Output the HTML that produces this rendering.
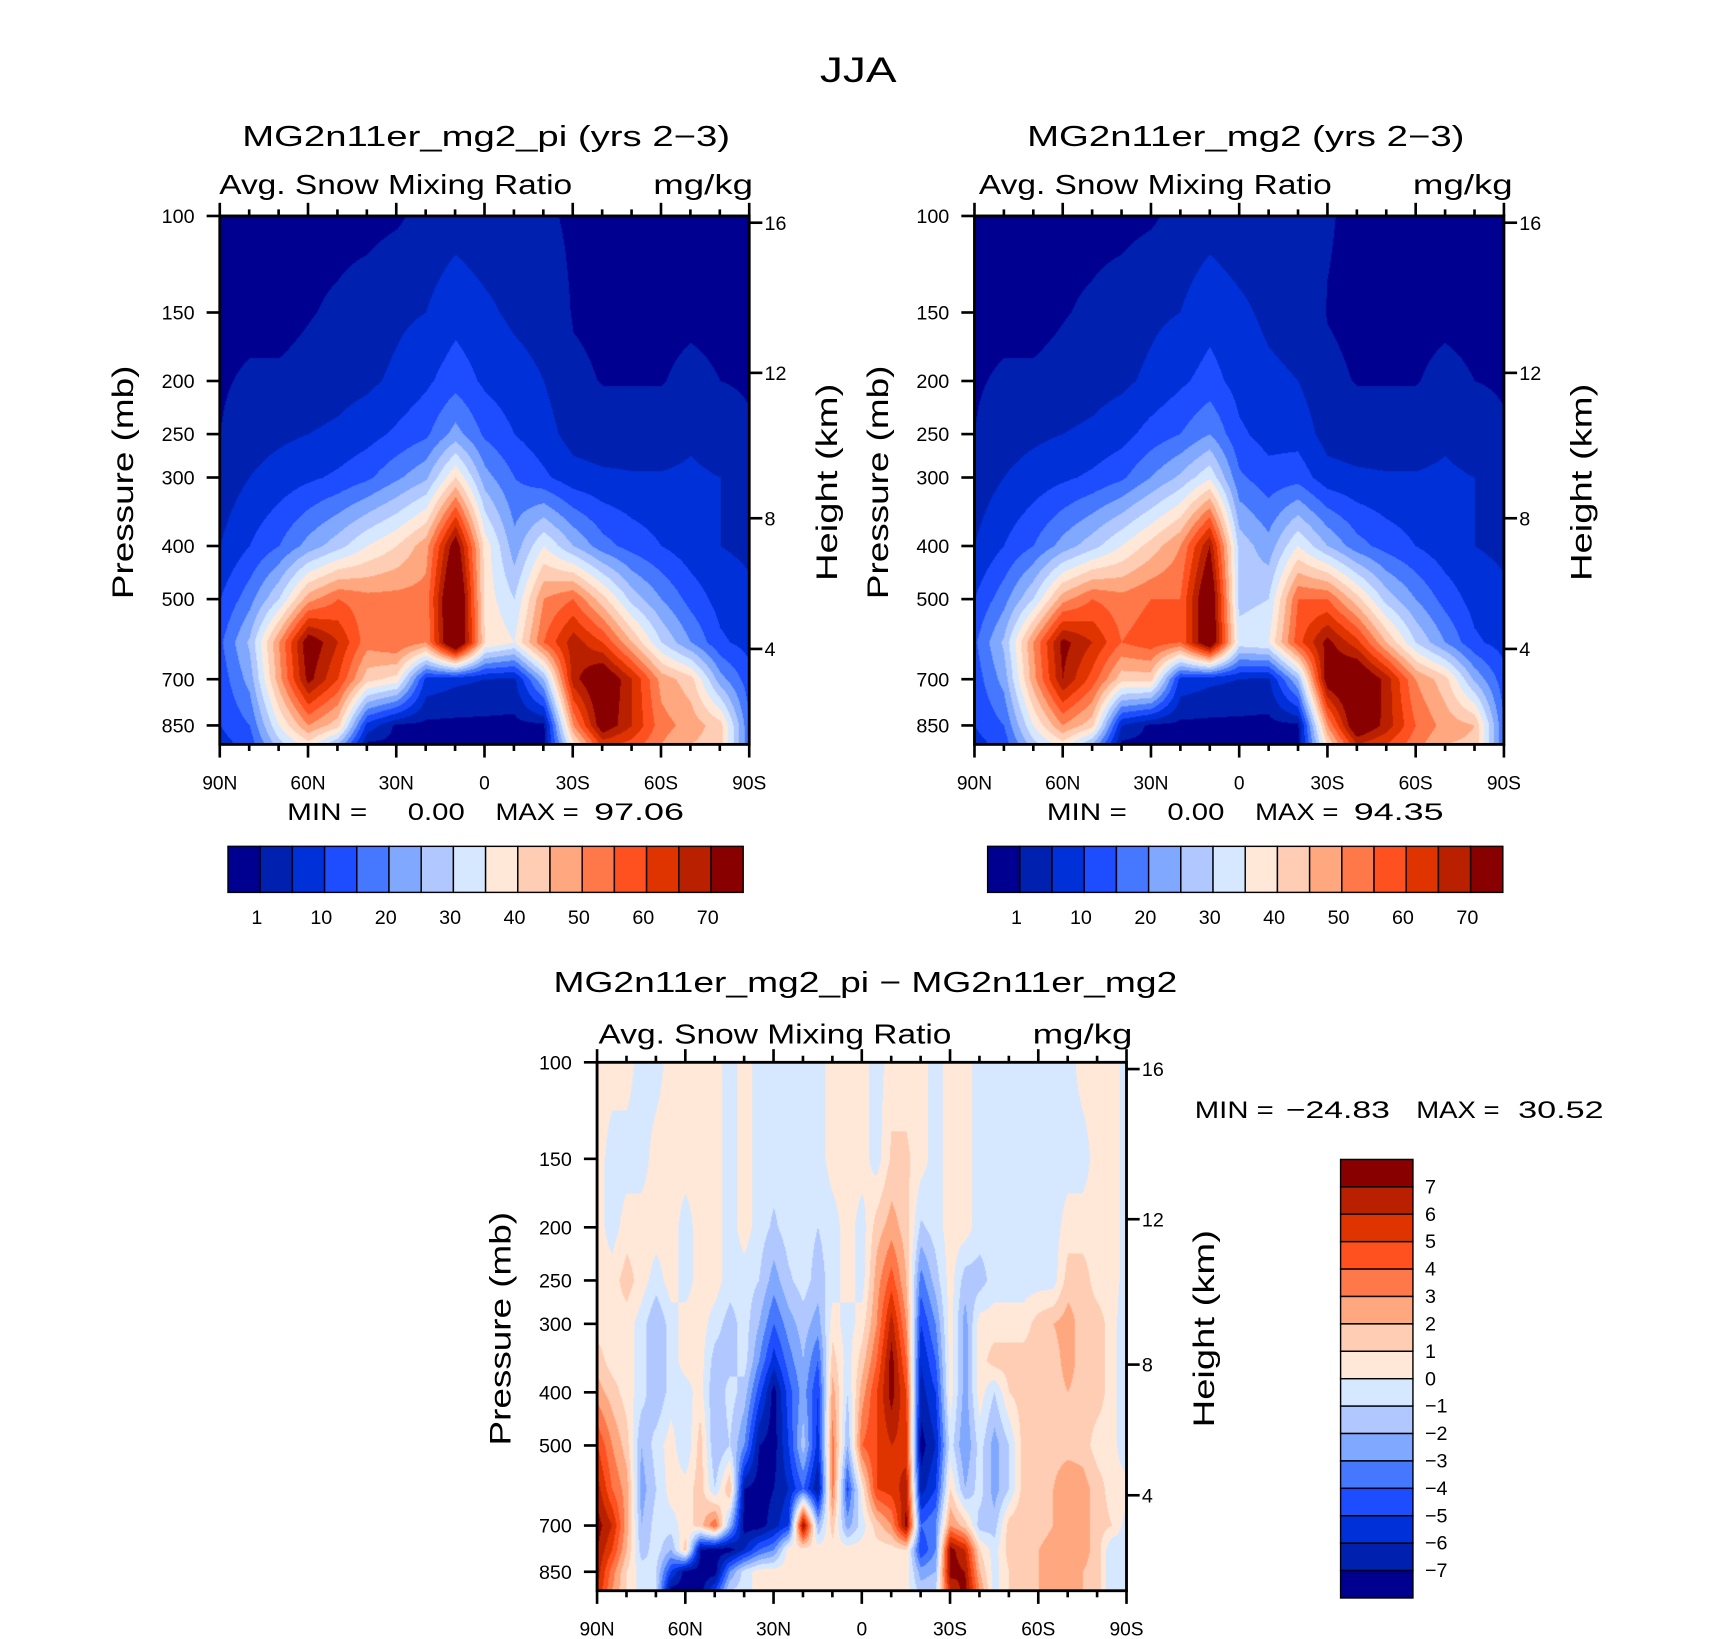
<!DOCTYPE html>
<html><head><meta charset="utf-8">
<style>
html,body{margin:0;padding:0;background:#fff;width:1710px;height:1639px;overflow:hidden}
#wrap{position:absolute;left:0;top:0;width:1560px;height:1495px;transform:scale(1.09615,1.0963);transform-origin:0 0}
canvas{position:absolute}
svg{position:absolute;left:0;top:0}
text{font-family:"Liberation Sans",sans-serif;fill:#000}
</style></head>
<body>
<div id="wrap">
<canvas id="cvL" style="left:200.5px;top:197px;width:483px;height:482px" width="530" height="528"></canvas>
<canvas id="cvR" style="left:889px;top:197px;width:483px;height:482px" width="530" height="528"></canvas>
<canvas id="cvD" style="left:544.7px;top:969px;width:483px;height:482px" width="530" height="528"></canvas>
<svg id="svg" width="1560" height="1495" viewBox="0 0 1560 1495">
<text x="783" y="75" font-size="32" text-anchor="middle" textLength="70" lengthAdjust="spacingAndGlyphs">JJA</text>
<text x="221" y="133" font-size="26" textLength="445" lengthAdjust="spacingAndGlyphs">MG2n11er_mg2_pi (yrs 2−3)</text>
<text x="200" y="177" font-size="25" textLength="322" lengthAdjust="spacingAndGlyphs">Avg. Snow Mixing Ratio</text>
<text x="596" y="177" font-size="25" textLength="91" lengthAdjust="spacingAndGlyphs">mg/kg</text>
<text x="937" y="133" font-size="26" textLength="399" lengthAdjust="spacingAndGlyphs">MG2n11er_mg2 (yrs 2−3)</text>
<text x="893" y="177" font-size="25" textLength="322" lengthAdjust="spacingAndGlyphs">Avg. Snow Mixing Ratio</text>
<text x="1289" y="177" font-size="25" textLength="91" lengthAdjust="spacingAndGlyphs">mg/kg</text>
<text x="505" y="905" font-size="26" textLength="569" lengthAdjust="spacingAndGlyphs">MG2n11er_mg2_pi − MG2n11er_mg2</text>
<text x="546" y="952" font-size="25" textLength="322" lengthAdjust="spacingAndGlyphs">Avg. Snow Mixing Ratio</text>
<text x="942" y="952" font-size="25" textLength="91" lengthAdjust="spacingAndGlyphs">mg/kg</text>
<g font-size="22">
<text x="262" y="748" textLength="73" lengthAdjust="spacingAndGlyphs">MIN  =</text>
<text x="372" y="748" textLength="52" lengthAdjust="spacingAndGlyphs">0.00</text>
<text x="452" y="748" textLength="76" lengthAdjust="spacingAndGlyphs">MAX  =</text>
<text x="542" y="748" textLength="82" lengthAdjust="spacingAndGlyphs">97.06</text>
</g>
<g font-size="22">
<text x="955" y="748" textLength="73" lengthAdjust="spacingAndGlyphs">MIN  =</text>
<text x="1065" y="748" textLength="52" lengthAdjust="spacingAndGlyphs">0.00</text>
<text x="1145" y="748" textLength="76" lengthAdjust="spacingAndGlyphs">MAX  =</text>
<text x="1235" y="748" textLength="82" lengthAdjust="spacingAndGlyphs">94.35</text>
</g>
<g font-size="22">
<text x="1090" y="1020" textLength="72" lengthAdjust="spacingAndGlyphs">MIN  =</text>
<text x="1173" y="1020" textLength="95" lengthAdjust="spacingAndGlyphs">−24.83</text>
<text x="1292" y="1020" textLength="76" lengthAdjust="spacingAndGlyphs">MAX  =</text>
<text x="1385" y="1020" textLength="78" lengthAdjust="spacingAndGlyphs">30.52</text>
</g>
</svg>
</div>
<script>
// ---- data ----
const lats10 = [90,80,70,60,50,40,30,20,10,0,-10,-20,-30,-40,-50,-60,-70,-80,-90];
const lats5 = [90,85,80,75,70,65,60,55,50,45,40,35,30,25,20,15,10,5,0,-5,-10,-15,-20,-25,-30,-35,-40,-45,-50,-55,-60,-65,-70,-75,-80,-85,-90];
const presTop = [100,150,200,250,300,400,500,600,700,850,920];
const presDiff = [100,150,200,250,300,350,400,500,600,700,775,850,920];
const leftField = [
[0,0,0,0,0,0,0.5,2,3,2,2,1.5,0.5,0,0,0,0,0,0],
[0,0,0,0.8,1.5,2.5,4,5,8,6,4,3,0.8,0.5,0.5,0.5,0.6,0.5,0.5],
[0.6,1.5,1.5,2,3,4,6,9,13,9,7,5,1.5,0.9,0.9,0.9,1.5,1,0.8],
[1,3,4,5,6,8,11,14,22,14,10,7,3,2,2,2,4,2,1.2],
[2,5,7,9,11,14,19,24,40,22,15,11,7,6,5.5,5.5,6,5,3],
[5,10,15,22,28,35,40,48,75,38,22,35,25,17,13,10,7,5,4],
[10,18,30,48,55,52,52,52,85,38,30,50,55,42,28,20,13,8,6],
[14,26,50,75,65,52,55,50,85,40,35,55,68,60,45,30,20,11,8],
[12,22,48,72,60,42,38,8,6,5,4,25,68,78,65,48,42,22,12],
[10,15,35,50,42,8,0,0,0,0,0,0,50,75,65,52,48,42,15],
[8,12,28,38,25,0,0,0,0,0,0,0,38,62,58,50,45,42,15]];
const rightField = [
[0,0,0,0,0,0,0.5,2,3,2,2,2,1.2,0.5,0,0,0,0,0],
[0,0,0,0.8,1.5,2.5,4,5,8,6,4,3,0.9,0.5,0.5,0.5,0.6,0.5,0.5],
[0.6,1.5,1.5,2,3,4,6,9,12,8,6,5,1.5,0.9,0.9,0.9,1.5,1,0.8],
[1,3,4,5,6,8,12,15,20,11,8,8,3,2,2,2,4,2,1.2],
[2,5,7,9,11,14,20,26,34,16,12,13,7,6,5.5,5.5,6,5,3],
[5,10,15,22,28,35,42,50,70,28,22,35,25,17,13,10,7,5,4],
[10,18,30,48,55,52,55,55,80,28,30,55,55,42,28,20,13,8,6],
[14,26,50,72,65,55,58,55,80,33,35,58,72,62,45,30,20,11,8],
[12,22,48,70,58,42,42,8,6,5,4,25,75,80,68,50,42,24,12],
[10,15,35,50,42,5,0,0,0,0,0,0,50,78,68,55,48,45,15],
[8,12,28,38,25,0,0,0,0,0,0,0,40,65,60,52,45,44,15]];
const diffField = [
[.5,.5,.5,-.5,-.5,.5,.5,.5,.5,-.5,.5,-.5,-.5,-.5,-.5,-.5,.5,.5,.5,-.5,.5,.5,.5,-.5,.5,.5,-.5,-.5,-.5,-.5,-.5,-.5,-.5,.5,.5,.5,-.5],
[.5,-.5,-.5,-.5,.5,.5,.5,.5,.5,-.5,.5,-.5,-.5,-.5,-.5,-.5,.5,.5,.5,-.5,1.2,1.2,.5,-.5,.5,.5,-.5,-.5,-.5,-.5,-.5,-.5,-.5,-.5,.5,.5,-.5],
[.5,-.5,.5,.5,.5,.5,-.5,.5,.5,-.5,.5,-.5,-1.2,-.5,-.5,-1,-.5,.5,-.5,1.5,2.5,1.5,-1.2,-.5,.5,.5,-.5,-.5,-.5,-.5,-.5,-.5,.5,.5,.5,.5,-.5],
[.5,.5,1.5,.5,-.5,.5,-.5,.5,.5,-.5,-.5,-1,-2.5,-1.2,-.5,-1.5,-.5,.5,-.5,2.5,4.5,2,-3.5,-1.5,.5,-1.5,-1.5,-.5,-.5,-.5,-.5,-.5,1.5,1.5,.5,.5,-.5],
[.5,.5,.5,-.5,-2,-.5,.5,.5,-.5,-1.5,-.5,-2,-4,-2.5,-1.5,-2.5,.5,-.5,.5,3,6.5,3,-5,-3,.5,-2.5,.5,.5,.5,.5,1.5,2,2.5,1.5,1.5,.5,-1],
[1.5,.5,.5,-.5,-2,-.5,.5,.5,-1.5,-1.5,-.5,-3,-5.5,-3.5,-2,-4,1.5,-.5,1.5,4,7.5,4,-6,-4,.5,-2.5,.5,1.5,1.5,1.5,1.5,1.5,2.5,1.5,1.5,.5,-1],
[2.5,1.5,.5,-.5,-2,-.5,-.5,.5,-2,-.5,-1.5,-4.5,-7.5,-4.5,-2.5,-5,2.5,-1,2.5,5,7.5,5,-6.5,-5,.5,-2.5,.5,-1,1,1.5,1.5,1.5,2,1.5,1.5,.5,-1],
[5,3,1.5,-2,-.5,.5,-1,1.5,-2,-1,-3,-7,-7.5,-5,-1.5,-5.5,3.5,-2,4,5,6,5.5,-7.5,-6,-.5,-3,-.5,-2.5,-1,1.5,1.5,1.5,1.5,1.5,.5,.5,-1],
[6.5,4,2.5,-2.5,-1,.5,.5,1.5,-1,2,-7,-7.5,-7,-6,-4,-7,3.5,-4.5,.5,5,5.5,6.5,-6.5,-5,1,-2,-.5,-2.5,-1,1.5,1.5,2,3,2.5,1.5,.5,.5],
[7.5,6,2.5,-2,-.5,-.5,.5,1.5,4,-2,-7.5,-7.5,-6.5,-5,7.5,-2,1.5,-2.5,-.5,1.5,3,7.5,-4,-3,3,1.5,-1.5,-1.5,1.5,2,1.5,2,3,2.5,1.5,1,-.5],
[7,5,2,-1.5,-.5,-2,1.5,-7,-7.5,-7.5,-6,-4,-3,.5,.5,.5,.5,.5,.5,.5,.5,1,-5,-3,7.5,6,1,-.5,1.5,2,2,2.5,3,2.5,1.5,-1,-.5],
[6.5,3.5,1,-.5,-1,-5,-7.5,-7.5,-7.5,-3,-.5,.5,.5,.5,.5,.5,.5,.5,.5,.5,.5,.5,-2.5,-2,7.5,7,2,-.5,1,1.5,2,2.5,3,2,1.5,-1,0],
[6,3,1,-.5,-1,-7.5,-7.5,-7.5,-5,-1,-.5,.5,.5,.5,.5,.5,.5,.5,.5,.5,.5,.5,-1.5,-1,6,7.5,3,-.5,1,1.5,2,2.5,2.5,2,1.5,-1,0]];
const levelsTop = [1,5,10,15,20,25,30,35,40,45,50,55,60,65,70];
const levelsDiff = [-7,-6,-5,-4,-3,-2,-1,0,1,2,3,4,5,6,7];
const topBarLabels = ['1','10','20','30','40','50','60','70'];
const topBarLabelIdx = [0,2,4,6,8,10,12,14];
const diffBarLabels = ['7','6','5','4','3','2','1','0','−1','−2','−3','−4','−5','−6','−7'];
const latTicks = [90,60,30,0,-30,-60,-90];
const latTickLabels = ['90N','60N','30N','0','30S','60S','90S'];
const presTicks = [100,150,200,250,300,400,500,700,850];
const heightTicks = [16,12,8,4];
const palette = ['#000090','#0020b0','#0030d8','#1e4cff','#4678ff','#80a8ff','#b0c8ff','#d6e8ff','#ffe8d8','#ffccb4','#ffa880','#ff784a','#ff5020','#e03400','#b82000','#880000'];

// ---- geometry ----
const PW = 483, PH = 482, DEC = 500;
function yOfP(p){ return DEC*Math.log10(p/100); }
function xOfLat(lat){ return (90-lat)/180*PW; }
function pOfZ(z){
  const m=z*1000;
  if(m<=11000) return 1013.25*Math.pow(1-2.25577e-5*m,5.25588);
  return 226.32*Math.exp(-(m-11000)/6341.6);
}

function drawField(id, grid, lats, pres){
  const cv=document.getElementById(id), ctx=cv.getContext('2d');
  const W=cv.width,H=cv.height, img=ctx.createImageData(W,H);
  const levels = (grid===diffField)?levelsDiff:levelsTop;
  const rgb=palette.map(h=>[parseInt(h.substr(1,2),16),parseInt(h.substr(3,2),16),parseInt(h.substr(5,2),16)]);
  const lp=pres.map(p=>Math.log10(p));
  const nc=lats.length;
  for(let j=0;j<H;j++){
    const yv=(j+0.5)/H*PH;
    const l=2+yv/DEC;
    let k=0; while(k<lp.length-2 && l>lp[k+1]) k++;
    let t=(l-lp[k])/(lp[k+1]-lp[k]); t=Math.max(0,Math.min(1,t));
    for(let i=0;i<W;i++){
      const lat=90-(i+0.5)/W*180;
      let c=0; while(c<nc-2 && lat<lats[c+1]) c++;
      let u=(lats[c]-lat)/(lats[c]-lats[c+1]); u=Math.max(0,Math.min(1,u));
      const v=(1-t)*((1-u)*grid[k][c]+u*grid[k][c+1])+t*((1-u)*grid[k+1][c]+u*grid[k+1][c+1]);
      let ci=0; while(ci<levels.length && v>=levels[ci]) ci++;
      const col=rgb[ci], o=(j*W+i)*4;
      img.data[o]=col[0];img.data[o+1]=col[1];img.data[o+2]=col[2];img.data[o+3]=255;
    }
  }
  ctx.putImageData(img,0,0);
}
drawField('cvL',leftField,lats10,presTop);
drawField('cvR',rightField,lats10,presTop);
drawField('cvD',diffField,lats5,presDiff);

const NS='http://www.w3.org/2000/svg', svg=document.getElementById('svg');
function mk(tag,attrs,parent){
  const e=document.createElementNS(NS,tag);
  for(const k in attrs) e.setAttribute(k,attrs[k]);
  (parent||svg).appendChild(e); return e;
}
function panelAxes(prefix, ox, oy){
  const g=mk('g',{});
  
  
  const frame=mk('rect',{x:ox,y:oy,width:PW,height:PH,fill:'none',stroke:'#000','stroke-width':2.6},g);
  
  
  for(let lat=90;lat>=-90;lat-=10){
    const x=ox+xOfLat(lat), major=(lat%30===0), L=major?12:6;
    const tb=mk('line',{x1:x,y1:oy+PH,x2:x,y2:oy+PH+L,stroke:'#000','stroke-width':2.4},g);
    
    
    const tt=mk('line',{x1:x,y1:oy,x2:x,y2:oy-L,stroke:'#000','stroke-width':2.4},g);
    
    
  }
  latTicks.forEach((lat,i)=>{
    const t=mk('text',{x:ox+xOfLat(lat),y:oy+PH+41,'font-size':17.5,'text-anchor':'middle'},g);
    
    
    t.textContent=latTickLabels[i];
  });
  presTicks.forEach(p=>{
    const y=oy+yOfP(p);
    const tk=mk('line',{x1:ox-12,y1:y,x2:ox,y2:y,stroke:'#000','stroke-width':2.4},g);
    
    
    const t=mk('text',{x:ox-23,y:y+6.5,'font-size':18,'text-anchor':'end'},g);
    
    
    t.textContent=p;
  });
  heightTicks.forEach(z=>{
    const y=oy+yOfP(pOfZ(z));
    const tk=mk('line',{x1:ox+PW,y1:y,x2:ox+PW+12,y2:y,stroke:'#000','stroke-width':2.4},g);
    
    
    const t=mk('text',{x:ox+PW+14,y:y+6.5,'font-size':18},g);
    
    
    t.textContent=z;
  });
  const cy=oy+243;
  const yt=mk('text',{x:0,y:0,'font-size':27,'text-anchor':'middle',transform:'translate('+(ox-79)+','+cy+') rotate(-90)',textLength:213,lengthAdjust:'spacingAndGlyphs'},g);
  
  
  yt.textContent='Pressure (mb)';
  const ht=mk('text',{x:0,y:0,'font-size':27,'text-anchor':'middle',transform:'translate('+(ox+PW+80)+','+cy+') rotate(-90)',textLength:180,lengthAdjust:'spacingAndGlyphs'},g);
  
  
  ht.textContent='Height (km)';
}
panelAxes('left',200.5,197);
panelAxes('right',889,197);
panelAxes('difference',544.7,969);

function hBar(prefix, x0){
  const g=mk('g',{});
  
  
  const bw=470/palette.length;
  palette.forEach((c,i)=>{
    const r=mk('rect',{x:x0+i*bw,y:772,width:bw,height:42,fill:c,stroke:'#000','stroke-width':1.3},g);
    
    
  });
  topBarLabels.forEach((s,i)=>{
    const t=mk('text',{x:x0+(topBarLabelIdx[i]+1)*bw-3,y:843,'font-size':18,'text-anchor':'middle'},g);
    
    
    t.textContent=s;
  });
}
hBar('left',208);
hBar('right',901);

(function(){
  const g=mk('g',{});
  
  
  const bh=25, x0=1223, y0=1057.6;
  for(let i=0;i<palette.length;i++){
    const r=mk('rect',{x:x0,y:y0+i*bh,width:66,height:bh,fill:palette[palette.length-1-i],stroke:'#000','stroke-width':1.3},g);
    
    
  }
  diffBarLabels.forEach((s,i)=>{
    const t=mk('text',{x:1300,y:y0+(i+1)*bh+6,'font-size':18},g);
    
    
    t.textContent=s;
  });
})();
</script>
</body></html>
